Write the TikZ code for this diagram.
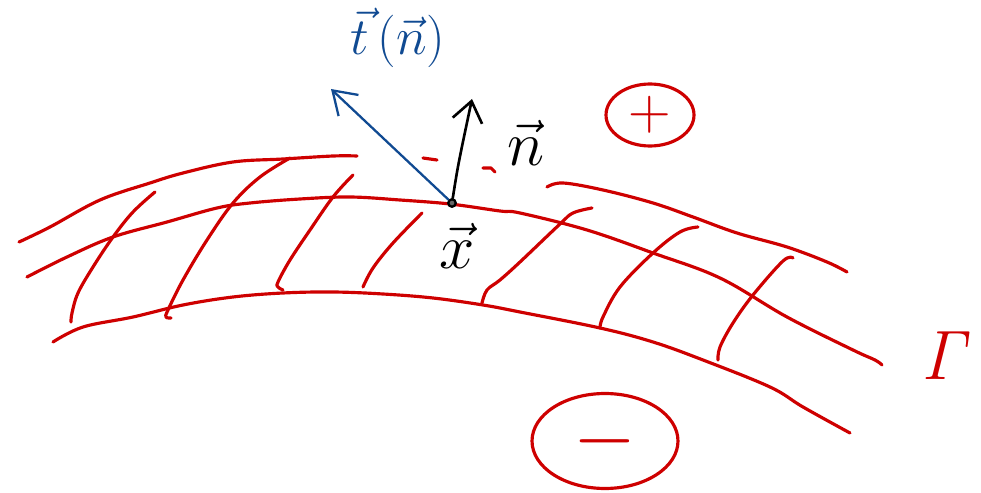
\documentclass[tikz,border=0pt]{standalone}
\usepackage{graphicx}
\usetikzlibrary{arrows.meta,shapes.geometric}
\definecolor{inkred}{RGB}{206,0,0}
\definecolor{inkblue}{RGB}{16,74,146}
\begin{document}
\begin{tikzpicture}[x=0.02cm,y=-0.02cm,
  redline/.style={inkred,line width=1.8pt,line cap=round,line join=round},
  bluevec/.style={inkblue,line width=1.3pt,line cap=round,-{Straight Barb[length=4.4mm,width=5.8mm,line width=1.3pt]}},
  blackvec/.style={black,line width=1.5pt,line cap=round,-{Straight Barb[length=4mm,width=6mm,line width=1.5pt]}},
  signbox/.style={ellipse,draw=inkred,line width=1.8pt,text=inkred,inner sep=0pt},
  biglabel/.style={font=\Huge,inner sep=0pt}]
\useasboundingbox (0,0) rectangle (981,493);
% layers of the interface
\draw[redline] plot[smooth,tension=0.6] coordinates {(19,242) (50,227) (100,200) (150,183) (183,173) (233,162) (283,159) (333,156) (357,156)};
\draw[redline] plot[smooth,tension=0.6] coordinates {(547,187) (563,183) (603,190) (653,203) (693,217) (737,233) (787,247) (827,262) (847,272)};
\draw[redline] (423,158) -- (437,160);
\draw[redline] (483,168) -- (491,168) -- (495,172);
\draw[redline] plot[smooth,tension=0.6] coordinates {(27,277) (67,257) (113,237) (167,222) (217,208) (250,203) (300,199) (350,197) (400,200) (450,204) (500,211) (520,213) (587,230) (653,253) (720,278) (787,317) (853,350) (875,360) (882,365)};
\draw[redline] plot[smooth,tension=0.6] coordinates {(53,342) (83,327) (133,317) (183,305) (233,297) (283,293) (333,292) (383,294) (433,298) (483,305) (520,312) (600,328) (653,342) (703,360) (770,387) (803,407) (850,433)};
% transverse strokes
\draw[redline] plot[smooth,tension=0.6] coordinates {(155,192) (133,212) (113,237) (93,267) (78,293) (72,313) (71,322)};
\draw[redline] plot[smooth,tension=0.6] coordinates {(290,158) (260,177) (233,203) (207,240) (183,280) (168,310) (166,317) (171,318)};
\draw[redline] plot[smooth,tension=0.6] coordinates {(353,175) (333,197) (310,230) (290,260) (278,282) (278,287) (283,290)};
\draw[redline] plot[smooth,tension=0.6] coordinates {(422,213) (393,243) (373,268) (363,287)};
\draw[redline] plot[smooth,tension=0.6] coordinates {(482,303) (487,290) (500,280) (520,262) (560,224) (573,213) (592,208)};
\draw[redline] plot[smooth,tension=0.6] coordinates {(698,227) (680,232) (653,253) (620,287) (603,317) (600,328)};
\draw[redline] plot[smooth,tension=0.6] coordinates {(793,258) (783,261) (753,295) (733,323) (720,347) (718,360)};
% signs
\node[signbox,minimum width=1.76cm,minimum height=1.24cm] (plus) at (650,115) {\scalebox{1.35}{\Huge$+$}};
\node[signbox,minimum width=2.92cm,minimum height=1.9cm] (minus) at (605,441) {\scalebox{1.85}{\Huge$-$}};
\node[biglabel,text=inkred,scale=1.6] (gamma) at (948,356) {$\mathit{\Gamma}$};
% point and vectors
\node[circle,draw=black,fill=black!60,line width=1.3pt,inner sep=0pt,minimum size=0.15cm] (x) at (452,203) {};
\coordinate (ttip) at (331,89);
\coordinate (ntip) at (472,99);
\draw[bluevec] (x) -- (ttip);
\draw[blackvec] (x) .. controls (458,165) .. (ntip);
\node[biglabel,text=inkblue,scale=1.2] (tlabel) at (398,38) {$\vec{t}\,(\vec{n})$};
\node[biglabel,scale=1.45] (nlabel) at (526,143) {$\vec{n}$};
\node[biglabel,scale=1.45] (xlabel) at (457,246) {$\vec{x}$};
\end{tikzpicture}
\end{document}
